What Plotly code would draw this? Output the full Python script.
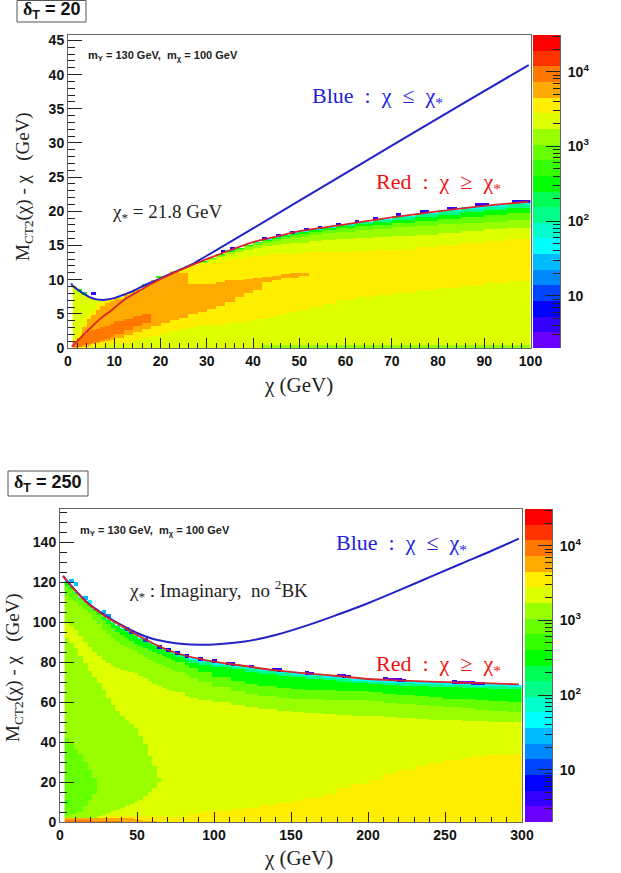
import numpy as np
import plotly.graph_objects as go

W, H = 621, 873

# ---- colour palette (20 bands, low to high) and colour-bar level edges
band_colors = ["#6a00ff", "#3300ff", "#0000ff", "#0044ff", "#0088ff", "#00bbff", "#00ffff", "#00ffcc",
               "#00ff88", "#00ff55", "#00ff00", "#33ff00", "#66ff00", "#99ff00", "#ddff00", "#ffee00",
               "#ffaa00", "#ff7700", "#ff3300", "#ff0000"]
level_edges = [2, 3.24, 5.25, 8.5, 13.8, 22.3, 36.2, 58.6, 95, 154, 249, 404, 654, 1060, 1717, 2782,
               4507, 7300, 11830, 19160, 31000]
cbar_tick_vals = [10, 100, 1000, 10000]
cbar_tick_text = ["10", "10<sup>2</sup>", "10<sup>3</sup>", "10<sup>4</sup>"]
cbar_minor_vals = [3, 4, 5, 6, 7, 8, 9, 20, 30, 40, 50, 60, 70, 80, 90, 200, 300, 400, 500, 600, 700, 800, 900,
                   2000, 3000, 4000, 5000, 6000, 7000, 8000, 9000, 20000, 30000]

# ---- panel 1 (delta_T = 20): tops of the coloured layers, column by column
p1_edges = [1, 2, 3, 4, 5, 6, 7, 8, 9, 10, 12, 14, 16, 18, 20, 22, 24, 26, 28, 30, 32, 34, 36, 38, 40, 42, 44, 46,
            48, 50, 52, 55, 58, 62, 66, 70, 75, 80, 85, 90, 95, 100]
p1_top = [9.0, 8.3, 7.8, 7.4, 7.2, 7.0, 6.95, 7.0, 7.15, 7.5, 8.0, 8.6, 9.3, 10, 10.6, 11.3, 11.7, 12.2,
          12.7, 13.2, 13.8, 14.3, 14.7, 15.1, 15.5, 15.9, 16.3, 16.6, 16.9, 17.1, 17.4, 17.7, 18.1, 18.5, 18.9,
          19.3, 19.8, 20.2, 20.6, 20.9, 21.2]
p1_low_ok = p1_top[:18]
p1_strip = [0] * 25 + [0.4] * 16
p1_ddff_low = [0, 0, 0, 0, 0.2, 0.3, 0.4, 0.5, 0.6, 0.7, 0.8, 1.1, 1.5, 1.8, 2.2, 2.5, 2.8, 3.0, 3.2, 3.3, 3.4,
               3.6, 3.8, 4.0, 4.2, 4.4, 4.7, 5.0, 5.3, 5.6, 6.0, 6.4, 7.0, 7.4, 7.8, 8.1, 8.5, 8.8, 9.1, 9.5, 9.8]
p1_yellow_up = [1.4, 2.2, 3.7, 4.8, 5.4, 6.5, 6.95, 7.0, 7.15, 7.5, 8.0, 8.6, 9.3, 10, 10.6, 11.3, 11.7, 12.1,
                12.3, 12.5, 12.7, 12.9, 13.1, 13.3, 13.5, 13.6, 13.7, 13.8, 13.8, 13.9, 14, 14.1, 14.1, 14.2,
                14.3, 14.4, 14.8, 15.1, 15.4, 15.7, 15.9]
p1_yellow_low = [0, 0.1, 0.2, 0.3, 0.6, 0.8, 0.9, 1.0, 1.2, 1.4, 1.9, 2.3, 2.8, 3.2, 3.7, 4.1, 4.4, 4.9, 5.3, 5.7,
                 6.2, 6.8, 7.4, 8.0, 8.5, 9.7, 10.0, 10.2, 10.3, 10.5] + p1_yellow_up[30:]
p1_orange_low = [0.1, 0.2, 0.4, 0.6, 0.8, 0.9, 1.1, 1.3, 1.6, 2.1, 2.7, 3.2, 3.7] + p1_yellow_low[13:]
p1_dark_up = [1.0, 1.5, 2.0, 2.5, 2.7, 2.8, 3.0, 3.2, 3.5, 3.9, 4.3, 4.7, 5.0] + p1_yellow_low[13:]
p1_orange_up = [1.0, 1.5, 3.0, 4.2, 4.8, 5.5, 6.1, 6.6, 6.9, 7.2, 7.8, 8.2, 9.1, 10, 10.6, 11.1, 10.9, 9.3, 9.3,
                9.4, 9.6, 9.9, 10.0, 10.1, 10.2, 10.4, 10.6, 10.8, 10.9, 11.0] + p1_yellow_up[30:]
p1_ddff_up = p1_low_ok + [12.5, 12.9, 13.3, 13.7, 14.0, 14.4, 14.7, 14.9, 15.1, 15.2, 15.3, 15.4, 15.6, 15.8, 16.0,
                          16.1, 16.2, 16.4, 16.6, 16.8, 17.1, 17.4, 17.6]
p1_lime_up = p1_low_ok + [12.6, 13.0, 13.5, 14.0, 14.4, 14.8, 15.1, 15.4, 15.7, 15.9, 16.1, 16.3, 16.5, 16.8, 17.0,
                          17.2, 17.4, 17.7, 17.9, 18.1, 18.3, 18.5, 18.8]
p1_chart_up = p1_low_ok + [12.65, 13.1, 13.65, 14.15, 14.55, 14.95, 15.3, 15.6, 15.9, 16.2, 16.5, 16.7, 16.9, 17.2,
                           17.5, 17.8, 18.0, 18.3, 18.6, 18.9, 19.1, 19.4, 19.7]
p1_green_up = p1_low_ok + [12.7, 13.15, 13.75, 14.25, 14.65, 15.05, 15.45, 15.8, 16.1, 16.4, 16.7, 16.9, 17.2, 17.5,
                           17.8, 18.1, 18.4, 18.8, 19.2, 19.5, 19.9, 20.2, 20.5]
p1_spring_up = p1_low_ok + [12.7, 13.2, 13.8, 14.3, 14.7, 15.1, 15.5, 15.85, 16.25, 16.55, 16.85, 17.05, 17.35, 17.65,
                            18.0, 18.4, 18.75, 19.1, 19.6, 20.0, 20.4, 20.7, 21.0]
p1_stack_bands = [13, 14, 15, 16, 17, 16, 15, 14, 13, 12, 10, 8, 6]
p1_speck_x = [5.5, 33.5, 35.5, 42.5, 45.5, 48.5, 51.5, 54.5, 58.5, 62.5, 66.5, 71.5, 76.5, 77.5, 82.5, 83.5, 88.5,
              89.5, 90.5, 96.5, 97.5, 98.5, 99.5, 2.5, 3.5, 16.5, 19.5]
p1_speck_y = [8.0, 14.1, 14.6, 16.0, 16.5, 16.9, 17.3, 17.6, 18.1, 18.5, 18.9, 19.5, 20.0, 20.0, 20.5, 20.5, 21.0,
              21.0, 21.0, 21.4, 21.4, 21.4, 21.4, 8.4, 8.0, 9.2, 10.4]
p1_speck_band = [1] * 23 + [10, 10, 11, 11]

p1_red_x = [0.8, 2, 3, 4, 5, 7, 9, 12.7, 16.3, 20, 23.6, 27, 30, 35, 40, 45, 50, 60, 70, 80, 90, 99.6]
p1_red_y = [0.2, 1.0, 1.7, 2.4, 3.0, 4.3, 5.3, 7.3, 8.7, 10.1, 11.2, 12.2, 13.0, 14.3, 15.5, 16.3, 17.1, 18.1, 19.1,
            20.0, 20.8, 21.4]
p1_blue_x = [0.7, 1, 2, 3, 4, 5, 6, 7, 8, 10, 12, 14, 16, 18, 20, 22, 25, 27, 30, 40, 54.6, 70, 85, 99.6]
p1_blue_y = [9.45, 9.1, 8.6, 8.1, 7.7, 7.35, 7.15, 7.05, 7.05, 7.3, 7.8, 8.3, 9.0, 9.6, 10.2, 10.8, 11.7, 12.3, 13.5,
             17.5, 23.4, 29.6, 35.6, 41.4]

# ---- panel 2 (delta_T = 250)
p2_edges = [3, 6, 9, 12, 15, 18, 21, 24, 27, 30, 33, 36, 39, 42, 45, 48, 51, 54, 57, 60, 63, 66, 69, 72, 75, 80, 85,
            90, 100, 110, 120, 130, 140, 150, 160, 170, 180, 190, 200, 210, 220, 230, 240, 250, 260, 270, 280, 290, 300]
p2_top = [120.5, 118, 115, 112.5, 110.5, 108.5, 106.5, 104.8, 103, 101.5, 100, 98.5, 97, 95.7, 94.5, 93.3, 92, 90.8,
          89.8, 88.8, 87.8, 86.9, 86, 85.2, 84.2, 83, 82, 80.8, 79.6, 78.5, 77.4, 76.3, 75.3, 74.5, 73.8, 73.1, 72.4,
          71.7, 71.2, 70.7, 70.4, 70.1, 69.8, 69.5, 69.3, 69.1, 68.9, 68.7]
p2_dark = [1.2] * 6 + [0.7] * 6 + [0] * 36
p2_orange = [2.2] * 13 + [2.0, 1.8, 1.5, 1.0, 0.5, 0.5, 0.5] + [0] * 28
p2_yellow = [2.2] * 8 + [2.6, 2.8, 3, 3, 3, 3, 3, 3, 3, 3, 3, 3, 3, 2.8, 2.7, 2.7, 2.7, 3.2, 4, 5, 5.7, 6.3, 7.2, 8.4,
                         9.6, 10.3, 12, 14, 17, 19, 21, 24, 26, 28, 29.5, 31, 32, 33, 33.5, 34]
p2_ddff_low = [2.2] * 7 + [3.0, 3.5, 4.5, 5.5, 6, 7, 8, 9, 10, 11, 13, 15, 17, 20, 20] + p2_yellow[22:]
p2_bright_low = [3, 4, 4.5, 5, 8, 11, 14] + p2_ddff_low[7:]
p2_bright_up = [42, 39, 36.5, 34, 30, 26, 22] + p2_ddff_low[7:]
p2_lime_mid = [92, 89.5, 87, 83, 79.5, 75.5, 72.5, 69.5, 66, 62, 58.5, 55.5, 53, 51, 49, 47, 43, 39, 33, 28, 22, 20] \
    + p2_yellow[22:]
p2_ddff_up = [100, 98, 96, 93, 90, 87.5, 85, 83, 81, 79.5, 78, 77, 76, 75.5, 75, 74.5, 73, 72, 70.5, 69, 68, 67, 66,
              65.5, 65, 63, 62, 61, 60, 58.7, 57.5, 56.5, 55.5, 55, 54.5, 54, 53.5, 53, 53, 52.5, 52, 51.7, 51.2, 51,
              50.7, 50.5, 50.2, 50]
p2_lime_up = [113, 111, 110, 108, 106, 104, 101, 99, 96, 94, 92, 90, 88.5, 87.5, 86.5, 85.5, 84, 82.5, 81, 80, 79, 78,
              77, 76, 75, 73.5, 72, 70, 67.5, 65.5, 64, 63, 62, 61.5, 61.3, 61.2, 61.1, 61, 60.5, 59.7, 59, 58.3, 57.8,
              57.3, 56.8, 56.2, 55.7, 55.2]
p2_chart_up = [118, 116.5, 114, 112, 110, 108, 105.5, 103.5, 101, 99, 97, 95, 93.5, 92, 90.5, 89, 88, 87, 86, 85, 84,
               83, 82, 81, 80, 78.5, 77, 75, 72.5, 70.5, 69, 68, 67, 66.5, 66.2, 66, 65.7, 65.3, 64.8, 64.2, 63.6, 63,
               62.3, 61.6, 61.3, 61, 60.6, 60.2]
p2_green_up = [120, 117.5, 114.5, 112, 110, 108, 106, 104.3, 102.5, 101, 99.5, 98, 96.5, 95.2, 94, 92.8, 91.5, 90.3,
               89.2, 88.2, 87, 86, 85, 84, 82.5, 81, 79.5, 78.6, 77.4, 76.3, 75.2, 74.1, 73.1, 72.3, 71.6, 70.9, 70.2,
               69.5, 69, 68.5, 68.2, 67.9, 67.6, 67.3, 67.1, 66.9, 66.7, 66.5]
p2_spring_up = [120.2, 117.7, 114.7, 112.2, 110.2, 108.2, 106.2, 104.5, 102.7, 101.2, 99.7, 98.2, 96.7, 95.4, 94.2,
                93, 91.7, 90.5, 89.4, 88.4, 87.3, 86.3, 85.4, 84.5, 83.3, 82, 80.8, 79.8, 78.6, 77.5, 76.4, 75.3, 74.3,
                73.5, 72.8, 72.1, 71.4, 70.7, 70.2, 69.7, 69.4, 69.1, 68.8, 68.5, 68.3, 68.1, 67.9, 67.7]
p2_stack_bands = [17, 16, 15, 14, 13, 12, 13, 14, 13, 12, 10, 8, 6]
p2_speck_x = [7.5, 10.5, 16.5, 19.5, 28.5, 31.5, 43.5, 46.5, 55.5, 64.5, 70.5, 76.5, 82.5, 91.5, 100.5, 109.5, 112.5,
              124.5, 139.5, 142.5, 160.5, 163.5, 182.5, 185.5, 188.5, 211.5, 214.5, 217.5, 220.5, 223.5, 256.5, 259.5,
              262.5, 265.5, 268.5, 271.5, 274.5, 4.5]
p2_speck_y = [120.5, 119, 112, 110, 105, 103, 96.5, 95, 91, 87.5, 86, 84.5, 83, 81.5, 80.5, 79.2, 79, 77.7, 76.2, 76,
              74.5, 74.3, 73.2, 73, 72.7, 71.6, 71.4, 71.2, 71, 70.8, 70, 69.8, 69.7, 69.6, 69.5, 69.4, 69.3, 10]
p2_speck_band = [5, 5, 5, 6, 5, 4, 3, 3, 3, 1, 2, 2, 2, 1, 1, 1, 1, 1, 1, 1, 1, 1, 0, 1, 1, 1, 0, 0, 1, 1, 1, 0, 0, 0, 0,
                 1, 1, 11]

p2_red_x = [2, 5, 10, 15, 20, 30, 40, 50, 60, 70, 80, 90, 100, 120, 140, 160, 180, 200, 220, 240, 260, 280, 298]
p2_red_y = [123, 120, 115.5, 111.5, 108, 102.5, 98, 93.5, 89.5, 86, 83.5, 81.7, 80.2, 78, 75.8, 74.3, 73, 71.5, 70.8,
            70.2, 69.7, 69.3, 68.8]
p2_blue_x = [2, 5, 10, 15, 20, 30, 40, 50, 60, 70, 80, 90, 100, 120, 140, 162, 180, 200, 220, 240, 260, 280, 298]
p2_blue_y = [123, 120.2, 115.8, 111.8, 108.3, 103, 98.4, 94.5, 91.6, 90, 89, 88.6, 88.8, 90.2, 93.5, 98.7, 103.6, 109.4,
             115.8, 122.4, 129, 135.5, 141.7]


def grid_from_layers(edges, tops, bands, xlo, nx, dx, dy, ymax, sx, sy, sb, sh):
    edges = np.asarray(edges, float)
    tops = np.asarray(tops, float)
    xc = xlo + dx * (np.arange(nx) + 0.5)
    yc = dy * (np.arange(int(ymax / dy)) + 0.5)
    z = np.full((yc.size, nx), np.nan)
    for ix, xv in enumerate(xc):
        col = min(np.searchsorted(edges, xv, side="right") - 1, tops.shape[1] - 1)
        idx = np.searchsorted(tops[:, col], yc, side="right")
        inside = idx < len(bands)
        z[inside, ix] = np.asarray(bands)[idx[inside]]
    for x_, y_, b_ in zip(sx, sy, sb):
        ix = int((x_ - xlo) / dx)
        sel = (yc >= y_ - sh / 2) & (yc <= y_ + sh / 2)
        z[sel, ix] = b_
    return xc, yc, z


p1_x, p1_y, p1_z = grid_from_layers(
    p1_edges,
    [p1_strip, p1_ddff_low, p1_yellow_low, p1_orange_low, p1_dark_up, p1_orange_up, p1_yellow_up, p1_ddff_up,
     p1_lime_up, p1_chart_up, p1_green_up, p1_spring_up, p1_top],
    p1_stack_bands, 1, 99, 1.0, 0.1, 30, p1_speck_x, p1_speck_y, p1_speck_band, 0.45)
p2_x, p2_y, p2_z = grid_from_layers(
    p2_edges,
    [p2_dark, p2_orange, p2_yellow, p2_ddff_low, p2_bright_low, p2_bright_up, p2_lime_mid, p2_ddff_up, p2_lime_up,
     p2_chart_up, p2_green_up, p2_spring_up, p2_top],
    p2_stack_bands, 3, 99, 3.0, 0.5, 130, p2_speck_x, p2_speck_y, p2_speck_band, 1.5)

colorscale = []
for k, c in enumerate(band_colors):
    colorscale += [[k / 20, c], [(k + 1) / 20, c]]


def px_x(p):
    return p / W


def px_y(p):
    return 1 - p / H


fig = go.Figure()
hm = dict(zmin=-0.5, zmax=19.5, colorscale=colorscale, showscale=False, hoverinfo="skip")
fig.add_trace(go.Heatmap(x=p1_x, y=p1_y, z=p1_z, xaxis="x", yaxis="y", **hm))
fig.add_trace(go.Scatter(x=p1_blue_x, y=p1_blue_y, mode="lines", xaxis="x", yaxis="y",
                         line=dict(color="#2222c8", width=2, shape="spline"), hoverinfo="skip"))
fig.add_trace(go.Scatter(x=p1_red_x, y=p1_red_y, mode="lines", xaxis="x", yaxis="y",
                         line=dict(color="#d62828", width=1.8, shape="spline"), hoverinfo="skip"))
fig.add_trace(go.Heatmap(x=p2_x, y=p2_y, z=p2_z, xaxis="x2", yaxis="y2", **hm))
fig.add_trace(go.Scatter(x=p2_blue_x, y=p2_blue_y, mode="lines", xaxis="x2", yaxis="y2",
                         line=dict(color="#2222c8", width=2, shape="spline"), hoverinfo="skip"))
fig.add_trace(go.Scatter(x=p2_red_x, y=p2_red_y, mode="lines", xaxis="x2", yaxis="y2",
                         line=dict(color="#d62828", width=1.8, shape="spline"), hoverinfo="skip"))

cbar_z = [[k] for k in range(20)]
fig.add_trace(go.Heatmap(x=[0, 1], y=level_edges, z=cbar_z, xaxis="x3", yaxis="y3", **hm))
fig.add_trace(go.Heatmap(x=[0, 1], y=level_edges, z=cbar_z, xaxis="x4", yaxis="y4", **hm))

tickfont = dict(family="Liberation Sans", size=14, color="#111111", weight=700)
tick_ink = "#222222"
frame = dict(showline=True, linecolor="#666666", linewidth=1, mirror=True, showgrid=False, zeroline=False,
             ticks="inside", tickcolor=tick_ink, tickwidth=1.2, tickfont=tickfont, automargin=False)


def xax(domain, rng, dtick, mdtick, anchor):
    return dict(domain=[px_x(domain[0]), px_x(domain[1])], range=rng, dtick=dtick, tick0=0, ticklen=10, anchor=anchor,
                minor=dict(ticks="inside", dtick=mdtick, ticklen=5, tickcolor=tick_ink, tickwidth=1, showgrid=False),
                **frame)


def yax(domain, rng, dtick, mdtick, anchor):
    return dict(domain=[px_y(domain[1]), px_y(domain[0])], range=rng, dtick=dtick, tick0=0, ticklen=14, anchor=anchor,
                minor=dict(ticks="inside", dtick=mdtick, ticklen=7, tickcolor=tick_ink, tickwidth=1, showgrid=False),
                **frame)


def cbar_x(domain, anchor):
    return dict(domain=[px_x(domain[0]), px_x(domain[1])], range=[0, 1], visible=False, anchor=anchor)


def cbar_y(domain, anchor):
    return dict(domain=[px_y(domain[1]), px_y(domain[0])], type="log", range=[np.log10(2), np.log10(31000)],
                side="right", anchor=anchor, tickmode="array", tickvals=cbar_tick_vals, ticktext=cbar_tick_text,
                ticklen=14, ticks="inside", tickcolor=tick_ink, tickwidth=1.2, tickfont=tickfont, showgrid=False,
                zeroline=False, showline=True, linecolor="#666666", linewidth=1, automargin=False,
                ticklabelstandoff=4,
                minor=dict(ticks="inside", tickmode="array", tickvals=cbar_minor_vals, ticklen=7,
                           tickcolor=tick_ink, tickwidth=1, showgrid=False))


serif = "Liberation Serif"


def note(x, y, text, size, color="#222222", family=serif, anchor="left", angle=0):
    return dict(xref="paper", yref="paper", x=px_x(x), y=px_y(y), text=text, showarrow=False, xanchor=anchor,
                yanchor="middle", textangle=angle, font=dict(family=family, size=size, color=color))


sans = "Liberation Sans"
annotations = [
    note(21, 11, "<b><span style='font-family:Liberation Serif'>δ</span><sub>T</sub> = 20</b>", 18, "#111111", sans),
    note(12, 483, "<b><span style='font-family:Liberation Serif'>δ</span><sub>T</sub> = 250</b>", 18, "#111111", sans),
    note(86, 56, "<b>m<sub>Y</sub> = 130 GeV,  m<sub>χ</sub> = 100 GeV</b>", 11, "#222222", sans),
    note(78, 531, "<b>m<sub>Y</sub> = 130 GeV,  m<sub>χ</sub> = 100 GeV</b>", 11, "#222222", sans),
    note(110, 213, "χ<sub>*</sub> = 21.8 GeV", 19),
    note(127, 590, "χ<sub>*</sub> : Imaginary,  no <sup>2</sup>BK", 19),
    note(310, 97, "Blue  :  χ  ≤  χ<sub>*</sub>", 22, "#2222dd"),
    note(334, 544, "Blue  :  χ  ≤  χ<sub>*</sub>", 22, "#2222dd"),
    note(374, 183, "Red  :  χ  ≥  χ<sub>*</sub>", 22, "#ee1111"),
    note(374, 665, "Red  :  χ  ≥  χ<sub>*</sub>", 22, "#ee1111"),
    note(298, 385, "χ (GeV)", 21, anchor="center"),
    note(298, 858, "χ (GeV)", 21, anchor="center"),
    note(24, 187, "M<sub>CT2</sub>(χ) - χ   (GeV)", 19, anchor="center", angle=-90),
    note(14, 668, "M<sub>CT2</sub>(χ) - χ   (GeV)", 19, anchor="center", angle=-90),
]

shapes = [
    dict(type="rect", xref="paper", yref="paper", x0=px_x(17), x1=px_x(86), y0=px_y(22), y1=px_y(0.5),
         line=dict(color="#555555", width=1)),
    dict(type="rect", xref="paper", yref="paper", x0=px_x(8), x1=px_x(88), y0=px_y(496), y1=px_y(471),
         line=dict(color="#555555", width=1)),
]

fig.update_layout(
    width=W, height=H, margin=dict(l=0, r=0, t=0, b=0, pad=0, autoexpand=False),
    paper_bgcolor="white", plot_bgcolor="white", showlegend=False,
    annotations=annotations, shapes=shapes,
    xaxis=xax((68, 530.5), [0, 100], 10, 2, "y"),
    yaxis=yax((35, 348), [0, 45.8], 5, 1, "x"),
    xaxis2=xax((60, 522), [0, 300], 50, 10, "y2"),
    yaxis2=yax((509, 822), [0, 156.5], 20, 5, "x2"),
    xaxis3=cbar_x((533, 560), "y3"),
    yaxis3=cbar_y((35, 348), "x3"),
    xaxis4=cbar_x((525, 552), "y4"),
    yaxis4=cbar_y((509, 822), "x4"),
)

fig.write_html("out.html", config=dict(displayModeBar=False),
               post_script="document.body.style.margin='0';document.body.style.overflow='hidden';")
